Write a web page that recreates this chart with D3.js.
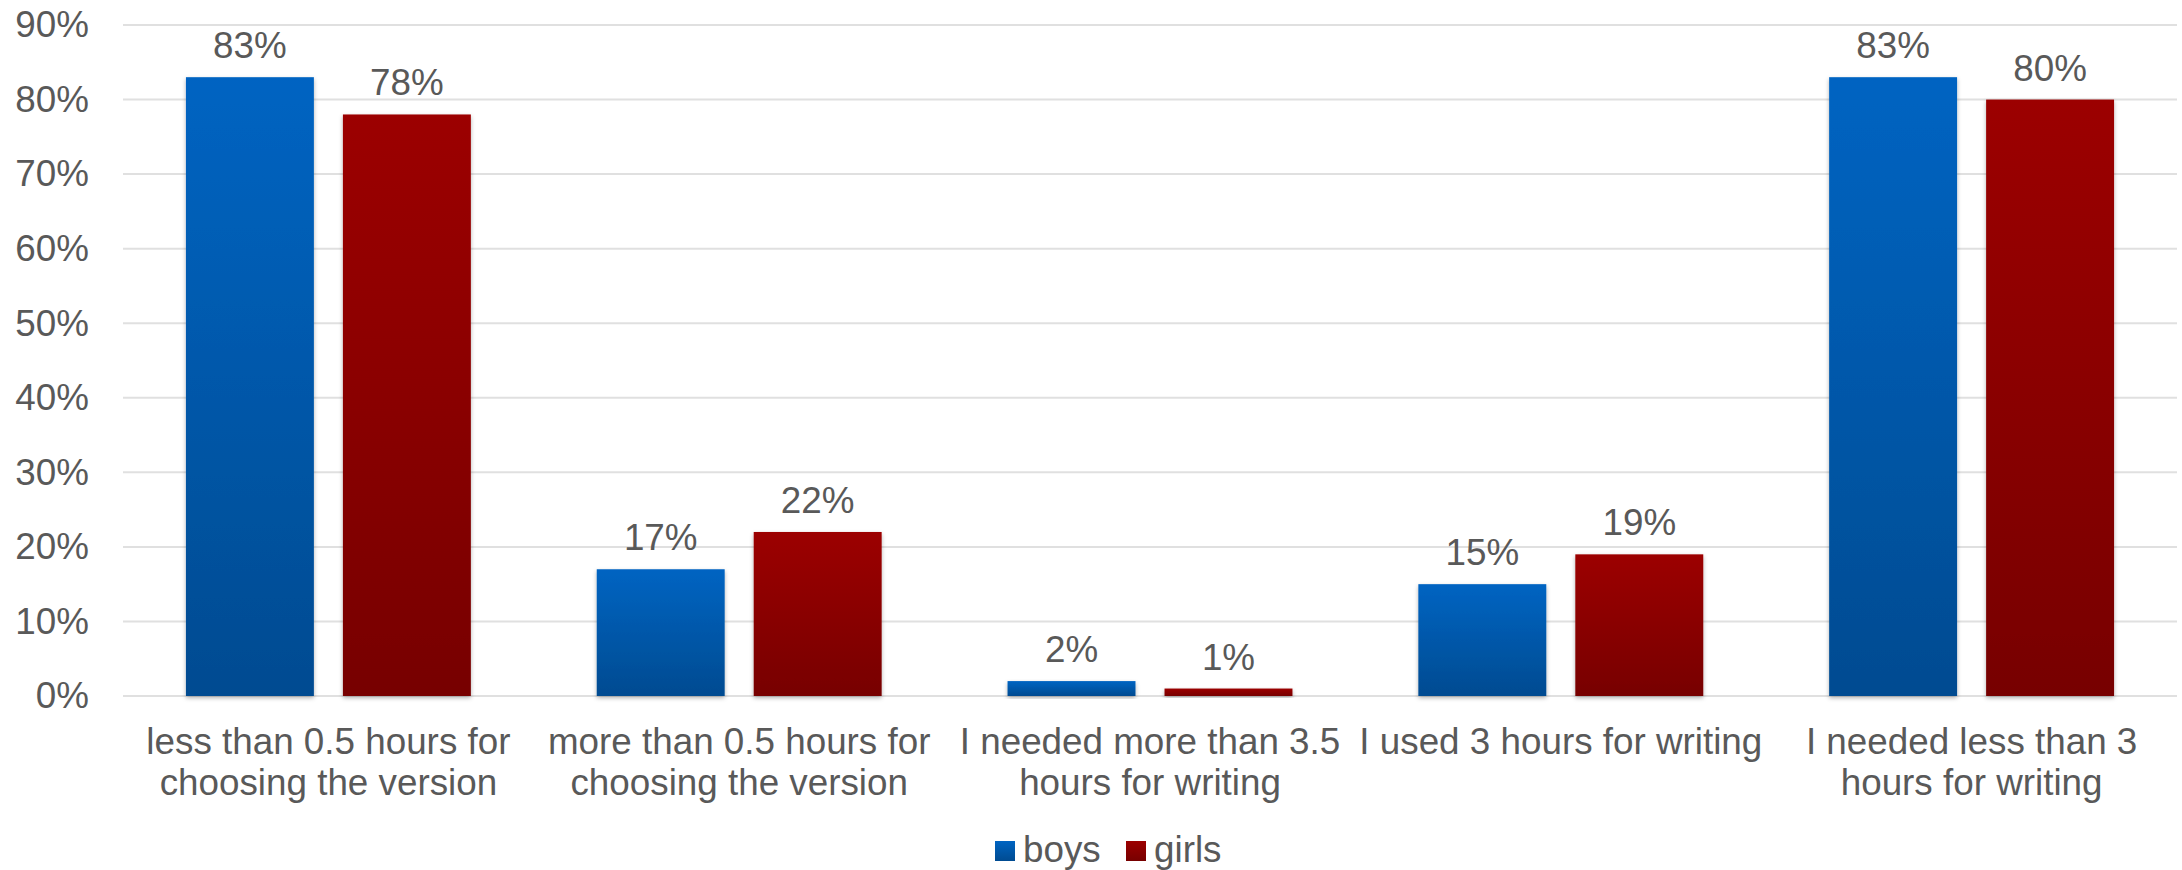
<!DOCTYPE html>
<html>
<head>
<meta charset="utf-8">
<script src="https://cdn.jsdelivr.net/npm/d3@7/dist/d3.min.js"></script>
<style>
  html, body { margin: 0; padding: 0; background: #fff; }
  svg { display: block; font-family: "Liberation Sans", Arial, sans-serif; }
</style>
</head>
<body>
<div id="chart"></div>
<script>
// Survey answers: share of boys and girls per statement
const categories = [
  "less than 0.5 hours for\nchoosing the version",
  "more than 0.5 hours for\nchoosing the version",
  "I needed more than 3.5\nhours for writing",
  "I used 3 hours for writing",
  "I needed less than 3\nhours for writing"
];
const seriesNames = ["boys", "girls"];
const boys = [83, 17, 2, 15, 83];
const girls = [78, 22, 1, 19, 80];
const yTicks = [0, 10, 20, 30, 40, 50, 60, 70, 80, 90];

const W = 2182, H = 870;
const margin = { left: 123, right: 5, top: 25, bottom: 174 };
const textColor = "#595959";
const fontSize = 36.8;

const svg = d3.select("#chart").append("svg")
  .attr("width", W).attr("height", H);

const defs = svg.append("defs");
const gradColors = {
  boys: ["#0064C2", "#004B91"],
  girls: ["#9C0000", "#770000"]
};
seriesNames.forEach(name => {
  const g = defs.append("linearGradient")
    .attr("id", "grad-" + name)
    .attr("x1", 0).attr("y1", 0).attr("x2", 0).attr("y2", 1);
  g.append("stop").attr("offset", "0%").attr("stop-color", gradColors[name][0]);
  g.append("stop").attr("offset", "100%").attr("stop-color", gradColors[name][1]);
});
const shadow = defs.append("filter").attr("id", "barShadow")
  .attr("x", "-10%").attr("y", "-10%").attr("width", "120%").attr("height", "130%");
shadow.append("feDropShadow")
  .attr("dx", 0).attr("dy", 2).attr("stdDeviation", 2)
  .attr("flood-color", "#000").attr("flood-opacity", 0.3);

const x0 = d3.scaleBand()
  .domain(categories)
  .range([margin.left, W - margin.right])
  .paddingInner(0).paddingOuter(0);

const x1 = d3.scaleBand()
  .domain(seriesNames)
  .range([0, x0.bandwidth()])
  .paddingInner(0.185)
  .paddingOuter(0.401);

const y = d3.scaleLinear()
  .domain([0, 90])
  .range([H - margin.bottom, margin.top]);

// Horizontal gridlines
svg.append("g")
  .selectAll("line")
  .data(yTicks)
  .join("line")
  .attr("x1", margin.left).attr("x2", W - margin.right)
  .attr("y1", d => y(d)).attr("y2", d => y(d))
  .attr("stroke", "#e0e0e0").attr("stroke-width", 2);

// Y axis labels
const yAxis = d3.axisLeft(y)
  .tickValues(yTicks)
  .tickFormat(d => d + "%")
  .tickSize(0)
  .tickPadding(34);
const yg = svg.append("g")
  .attr("transform", `translate(${margin.left},0)`)
  .call(yAxis);
yg.select(".domain").remove();
yg.selectAll("text")
  .attr("fill", textColor)
  .style("font-size", fontSize + "px")
  .style("font-family", "'Liberation Sans', Arial, sans-serif");

// Bars
const rows = categories.map((c, i) => ({ cat: c, values: [
  { name: "boys", value: boys[i] },
  { name: "girls", value: girls[i] }
]}));

const groups = svg.append("g").selectAll("g")
  .data(rows)
  .join("g")
  .attr("transform", d => `translate(${x0(d.cat)},0)`);

groups.selectAll("rect")
  .data(d => d.values)
  .join("rect")
  .attr("x", d => x1(d.name))
  .attr("width", x1.bandwidth())
  .attr("y", d => y(d.value))
  .attr("height", d => y(0) - y(d.value))
  .attr("fill", d => `url(#grad-${d.name})`)
  .attr("filter", "url(#barShadow)");

// Value labels
groups.selectAll("text.val")
  .data(d => d.values)
  .join("text")
  .attr("class", "val")
  .attr("x", d => x1(d.name) + x1.bandwidth() / 2)
  .attr("y", d => y(d.value) - 19)
  .attr("text-anchor", "middle")
  .attr("fill", textColor)
  .style("font-size", fontSize + "px")
  .text(d => d.value + "%");

// Category labels (wrapped onto two lines)
const xAxis = d3.axisBottom(x0).tickSize(0).tickFormat("");
const xg = svg.append("g")
  .attr("transform", `translate(0,${y(0)})`)
  .call(xAxis);
xg.select(".domain").remove();
xg.selectAll(".tick").each(function(d) {
  const t = d3.select(this).append("text")
    .attr("text-anchor", "middle")
    .attr("fill", textColor)
    .style("font-size", fontSize + "px");
  d.split("\n").forEach((line, i) => {
    t.append("tspan").attr("x", 0).attr("y", 58 + i * 41).text(line);
  });
});

// Legend
const legend = svg.append("g").attr("transform", "translate(995,841)");
const legendItems = [
  { name: "boys", x: 0 },
  { name: "girls", x: 131 }
];
legendItems.forEach(item => {
  legend.append("rect")
    .attr("x", item.x).attr("y", 0)
    .attr("width", 20).attr("height", 20)
    .attr("fill", `url(#grad-${item.name})`);
  legend.append("text")
    .attr("x", item.x + 28).attr("y", 21)
    .attr("fill", textColor)
    .style("font-size", fontSize + "px")
    .text(item.name);
});
</script>
</body>
</html>
